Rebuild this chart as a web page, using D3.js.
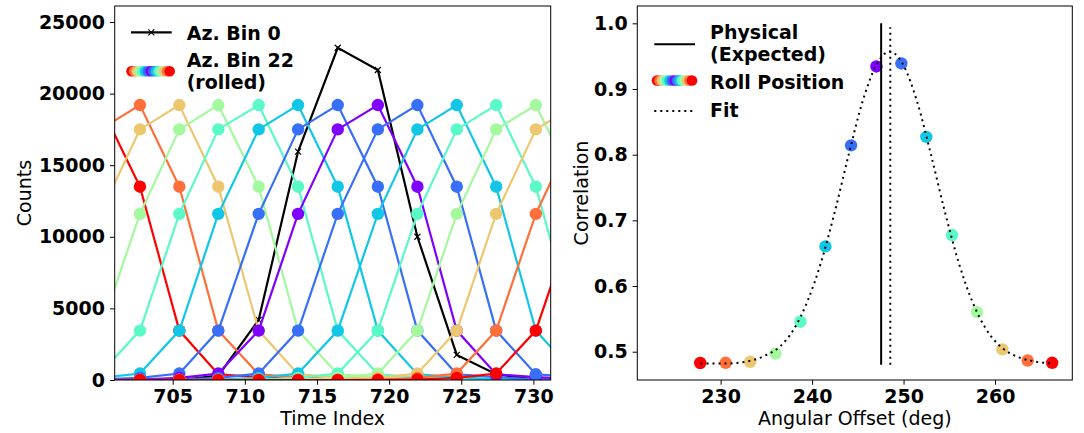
<!DOCTYPE html>
<html>
<head>
<meta charset="utf-8">
<script src="https://cdn.jsdelivr.net/npm/d3@7"></script>
<style>
body { margin: 0; background: #fff; }
svg { display: block; font-family: "DejaVu Sans", sans-serif; }
.legend text { font-weight: bold; font-size: 19px; }
.label { font-size: 19px; }
</style>
</head>
<body>
<svg></svg>
<script>
const width = 1084;
const height = 433;

// left panel: counts vs time index
const timeIndex = [699.98, 702.73, 705.46, 708.16, 710.96, 713.69, 716.44, 719.22, 721.96, 724.69, 727.42, 730.17, 732.92, 735.67, 738.42];
const bin0Counts = [0, 0, 0, 300, 4200, 15950, 23200, 21650, 10000, 1750, 400, 30, 0, 0, 0];
const bin22Counts = [0, 30, 150, 450, 3450, 11600, 17500, 19200, 13500, 3450, 400, 200, 50, 0, 0];
const rollShifts = [-7, -6, -5, -4, -3, -2, -1, 0, 1, 2, 3, 4, 5, 6, 7];
const countTicks = [0, 5000, 10000, 15000, 20000, 25000];
const timeTicks = [705, 710, 715, 720, 725, 730];

// right panel: correlation vs angular offset
const rollOffsetDeg = [227.77, 230.55, 233.23, 236.0, 238.73, 241.46, 244.26, 247.03, 249.76, 252.49, 255.3, 258.03, 260.8, 263.57, 266.25];
const rollCorrelation = [0.4828, 0.4831, 0.4846, 0.497, 0.5457, 0.6603, 0.8142, 0.9343, 0.9389, 0.8271, 0.6776, 0.5603, 0.5036, 0.4865, 0.4831];
const fitAngle = [227.8, 230.5, 233.2, 235.0, 236.5, 238.0, 239.5, 241.0, 242.5, 244.0, 245.5, 247.0, 248.5, 250.0, 251.5, 253.0, 254.5, 256.0, 257.5, 259.0, 260.5, 262.0, 264.0, 266.3];
const fitCorrelation = [0.482, 0.482, 0.486, 0.495, 0.508, 0.534, 0.577, 0.637, 0.714, 0.800, 0.880, 0.936, 0.957, 0.936, 0.880, 0.800, 0.714, 0.637, 0.577, 0.535, 0.509, 0.495, 0.486, 0.482];
const physicalOffset = 247.55;
const fitCenter = 248.55;
const offsetTicks = [230, 240, 250, 260];
const corrTicks = [0.5, 0.6, 0.7, 0.8, 0.9, 1.0];

// matplotlib "rainbow" colormap
function rainbow(t) {
    const r = Math.min(1, Math.abs(2 * t - 0.5));
    const g = Math.sin(Math.PI * t);
    const b = Math.cos(Math.PI * t / 2);
    return d3.rgb(r * 255, g * 255, b * 255).formatHex();
}
const shiftColor = s => rainbow(Math.abs(s) / 7);

function shifted(values, s) {
    return values.map((v, j) => {
        const src = j - s;
        return src >= 0 && src < values.length ? values[src] : 0;
    });
}

const svg = d3.select('svg').attr('width', width).attr('height', height);
svg.append('rect').attr('width', width).attr('height', height).attr('fill', '#fff');

const left = {x0: 114.7, x1: 550.7, y0: 6, y1: 380};
const right = {x0: 637.3, x1: 1072.3, y0: 6, y1: 380};

const xTime = d3.scaleLinear().domain([700.98, 731.2]).range([left.x0, left.x1]);
const yCount = d3.scaleLinear().domain([0, 26117]).range([left.y1, left.y0]);
const xAng = d3.scaleLinear().domain([220.89, 268.45]).range([right.x0, right.x1]);
const yCorr = d3.scaleLinear().domain([0.4569, 1.0264]).range([right.y1, right.y0]);

const defs = svg.append('defs');
[['clipL', left], ['clipR', right]].forEach(([id, b]) => {
    defs.append('clipPath').attr('id', id).append('rect')
        .attr('x', b.x0).attr('y', b.y0).attr('width', b.x1 - b.x0).attr('height', b.y1 - b.y0);
});

function styleAxis(g) {
    g.select('.domain').remove();
    g.attr('font-family', 'DejaVu Sans').attr('font-size', 19).attr('font-weight', 'bold');
    g.selectAll('.tick line').attr('stroke', '#000');
    g.selectAll('.tick text').attr('fill', '#000')
        .attr('font-family', 'DejaVu Sans').attr('font-size', 19).attr('font-weight', 'bold');
}

function drawAxes(b, xs, ys, xt, yt, yfmt) {
    svg.append('g').attr('transform', `translate(0,${b.y1})`)
        .call(d3.axisBottom(xs).tickValues(xt).tickSize(4.7).tickSizeOuter(0).tickPadding(4.5).tickFormat(d3.format('d')))
        .call(styleAxis);
    svg.append('g').attr('transform', `translate(${b.x0},0)`)
        .call(d3.axisLeft(ys).tickValues(yt).tickSize(4.7).tickSizeOuter(0).tickPadding(5).tickFormat(yfmt))
        .call(styleAxis);
}

// ---------- left panel ----------
drawAxes(left, xTime, yCount, timeTicks, countTicks, d3.format('d'));
const plotL = svg.append('g').attr('clip-path', 'url(#clipL)');
const countLine = d3.line().x((d, i) => xTime(timeIndex[i])).y(d => yCount(d));

plotL.append('path').datum(bin0Counts)
    .attr('d', countLine).attr('fill', 'none').attr('stroke', '#000').attr('stroke-width', 2.2);
plotL.selectAll('.xmark').data(bin0Counts).enter().append('path')
    .attr('class', 'xmark')
    .attr('d', 'M-3,-3L3,3M-3,3L3,-3')
    .attr('transform', (d, i) => `translate(${xTime(timeIndex[i])},${yCount(d)})`)
    .attr('stroke', '#000').attr('stroke-width', 1.2);

rollShifts.forEach(s => {
    const vals = shifted(bin22Counts, s);
    const c = shiftColor(s);
    const g = plotL.append('g');
    g.append('path').datum(vals)
        .attr('d', countLine).attr('fill', 'none').attr('stroke', c).attr('stroke-width', 2.2);
    g.selectAll('circle').data(vals).enter().append('circle')
        .attr('cx', (d, i) => xTime(timeIndex[i])).attr('cy', d => yCount(d))
        .attr('r', 6.2).attr('fill', c);
});

svg.append('rect').attr('x', left.x0).attr('y', left.y0)
    .attr('width', left.x1 - left.x0).attr('height', left.y1 - left.y0)
    .attr('fill', 'none').attr('stroke', '#000').attr('stroke-width', 1);

const legL = svg.append('g').attr('class', 'legend');
legL.append('line').attr('x1', 131).attr('x2', 171.7).attr('y1', 32.3).attr('y2', 32.3)
    .attr('stroke', '#000').attr('stroke-width', 2.2);
legL.append('path').attr('d', 'M-3,-3L3,3M-3,3L3,-3')
    .attr('transform', 'translate(151.3,32.3)').attr('stroke', '#000').attr('stroke-width', 1.2);
legL.append('text').attr('x', 186.7).attr('y', 40).text('Az. Bin 0');
legL.append('text').attr('x', 186.7).attr('y', 67.3).text('Az. Bin 22');
legL.append('text').attr('x', 186.7).attr('y', 88.6).text('(rolled)');

function rollHandle(g, xa, xb, y) {
    const r = 5.3;
    const step = (xb - xa - 2 * r) / (rollShifts.length - 1);
    rollShifts.forEach((s, i) => {
        g.append('circle').attr('cx', xa + r + i * step).attr('cy', y).attr('r', r).attr('fill', shiftColor(s));
    });
}
rollHandle(legL, 126.2, 175, 71.2);

// ---------- right panel ----------
drawAxes(right, xAng, yCorr, offsetTicks, corrTicks, d3.format('.1f'));
const plotR = svg.append('g').attr('clip-path', 'url(#clipR)');

plotR.selectAll('circle').data(rollOffsetDeg).enter().append('circle')
    .attr('cx', d => xAng(d)).attr('cy', (d, i) => yCorr(rollCorrelation[i]))
    .attr('r', 6.2).attr('fill', (d, i) => shiftColor(rollShifts[i]));

plotR.append('line')
    .attr('x1', xAng(physicalOffset)).attr('x2', xAng(physicalOffset))
    .attr('y1', yCorr(0.48)).attr('y2', yCorr(1.0))
    .attr('stroke', '#000').attr('stroke-width', 2);
plotR.append('line')
    .attr('x1', xAng(fitCenter)).attr('x2', xAng(fitCenter))
    .attr('y1', yCorr(0.48)).attr('y2', yCorr(0.994))
    .attr('stroke', '#000').attr('stroke-width', 2).attr('stroke-dasharray', '2,4');

plotR.append('path').datum(fitAngle)
    .attr('d', d3.line().x(d => xAng(d)).y((d, i) => yCorr(fitCorrelation[i])).curve(d3.curveMonotoneX))
    .attr('fill', 'none').attr('stroke', '#000').attr('stroke-width', 2).attr('stroke-dasharray', '2,4');

svg.append('rect').attr('x', right.x0).attr('y', right.y0)
    .attr('width', right.x1 - right.x0).attr('height', right.y1 - right.y0)
    .attr('fill', 'none').attr('stroke', '#000').attr('stroke-width', 1);

const legR = svg.append('g').attr('class', 'legend');
legR.append('line').attr('x1', 654.3).attr('x2', 695).attr('y1', 44.3).attr('y2', 44.3)
    .attr('stroke', '#000').attr('stroke-width', 2);
legR.append('text').attr('x', 710).attr('y', 39).text('Physical');
legR.append('text').attr('x', 710).attr('y', 60.5).text('(Expected)');
rollHandle(legR, 651.7, 697.3, 80.5);
legR.append('text').attr('x', 710).attr('y', 89).text('Roll Position');
legR.append('line').attr('x1', 654.3).attr('x2', 695).attr('y1', 111).attr('y2', 111)
    .attr('stroke', '#000').attr('stroke-width', 2).attr('stroke-dasharray', '2,4');
legR.append('text').attr('x', 710).attr('y', 117).text('Fit');

// axis titles
svg.append('text').attr('class', 'label').attr('text-anchor', 'middle')
    .attr('x', (left.x0 + left.x1) / 2).attr('y', 425).text('Time Index');
svg.append('text').attr('class', 'label').attr('text-anchor', 'middle')
    .attr('x', (right.x0 + right.x1) / 2).attr('y', 425).text('Angular Offset (deg)');
svg.append('text').attr('class', 'label').attr('text-anchor', 'middle')
    .attr('transform', `translate(31,${(left.y0 + left.y1) / 2}) rotate(-90)`).text('Counts');
svg.append('text').attr('class', 'label').attr('text-anchor', 'middle')
    .attr('transform', `translate(588,${(right.y0 + right.y1) / 2}) rotate(-90)`).text('Correlation');
</script>
</body>
</html>
